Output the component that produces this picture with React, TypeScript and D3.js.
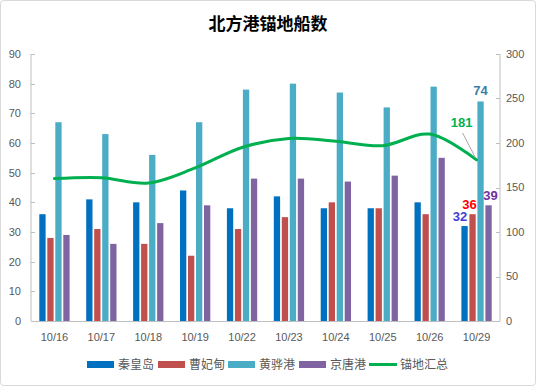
import React from 'react';
import * as d3 from 'd3';

// Data

const days = ['10/16', '10/17', '10/18', '10/19', '10/22', '10/23', '10/24', '10/25', '10/26', '10/29'];
const ports = ['秦皇岛', '曹妃甸', '黄骅港', '京唐港'];
const qhd = [36, 41, 40, 44, 38, 42, 38, 38, 40, 32];
const cfd = [28, 31, 26, 22, 31, 35, 40, 38, 36, 36];
const hhg = [67, 63, 56, 67, 78, 80, 77, 72, 79, 74];
const jtg = [29, 26, 33, 39, 48, 48, 47, 49, 55, 39];
const total = [160, 161, 155, 172, 195, 205, 202, 197, 210, 181];
const leftTicks = [0, 10, 20, 30, 40, 50, 60, 70, 80, 90];
const rightTicks = [0, 50, 100, 150, 200, 250, 300];

const seriesValues = [qhd, cfd, hhg, jtg];
const colors = ['#0070C0', '#C0504D', '#4BACC6', '#8064A2'];
const lineColor = '#00B050';
const labelColors = ['#3F3FD8', '#FF0000', '#3A7FA8', '#7030A0'];

const W = 536;
const H = 386;
const font = '"Liberation Sans", "Noto Sans CJK SC", sans-serif';

function App() {
    const ref = React.useRef<SVGSVGElement>(null);

    React.useEffect(() => {
        const svg = d3.select(ref.current);
        svg.selectAll('*').remove();

        const left = 31, right = 500, top = 54, bottom = 321;
        const x = d3.scaleBand<string>().domain(days).range([left, right]);
        const yL = d3.scaleLinear().domain([0, 90]).range([bottom, top]);
        const yR = d3.scaleLinear().domain([0, 300]).range([bottom, top]);

        const barW = 6.3, gap = 1.7;
        const groupW = ports.length * barW + (ports.length - 1) * gap;

        // frame
        svg.append('rect')
            .attr('x', 0.5).attr('y', 0.5).attr('width', W - 1).attr('height', H - 1)
            .attr('rx', 3).attr('fill', '#fff').attr('stroke', '#D9D9D9');

        // title
        svg.append('text')
            .attr('x', 268).attr('y', 30)
            .attr('text-anchor', 'middle')
            .attr('font-family', '"Noto Sans CJK SC", sans-serif')
            .attr('font-weight', 'bold').attr('font-size', 17)
            .attr('fill', '#000')
            .text('北方港锚地船数');

        // axes
        const axisG = svg.append('g').attr('stroke', '#BFBFBF').attr('stroke-width', 1);
        axisG.append('line').attr('x1', left).attr('x2', left).attr('y1', top).attr('y2', bottom);
        axisG.append('line').attr('x1', right).attr('x2', right).attr('y1', top).attr('y2', bottom);
        axisG.append('line').attr('x1', left).attr('x2', right).attr('y1', bottom + 0.5).attr('y2', bottom + 0.5);
        leftTicks.forEach((t) => {
            axisG.append('line').attr('x1', left).attr('x2', left + 4)
                .attr('y1', Math.round(yL(t)) + 0.5).attr('y2', Math.round(yL(t)) + 0.5);
        });
        rightTicks.forEach((t) => {
            axisG.append('line').attr('x1', right - 4).attr('x2', right)
                .attr('y1', Math.round(yR(t)) + 0.5).attr('y2', Math.round(yR(t)) + 0.5);
        });

        const tickText = svg.append('g')
            .attr('font-family', font).attr('font-size', 11).attr('fill', '#595959');
        leftTicks.forEach((t) => {
            tickText.append('text').attr('x', 21).attr('y', yL(t)).attr('dy', '0.35em')
                .attr('text-anchor', 'end').text(t);
        });
        rightTicks.forEach((t) => {
            tickText.append('text').attr('x', 506).attr('y', yR(t)).attr('dy', '0.35em')
                .attr('text-anchor', 'start').text(t);
        });
        days.forEach((d) => {
            tickText.append('text').attr('x', x(d)! + x.bandwidth() / 2).attr('y', 337).attr('dy', '0.35em')
                .attr('text-anchor', 'middle').text(d);
        });

        // bars
        seriesValues.forEach((vals, si) => {
            svg.append('g').attr('fill', colors[si])
                .selectAll('rect').data(vals).enter().append('rect')
                .attr('x', (_, i) => x(days[i])! + x.bandwidth() / 2 - groupW / 2 + si * (barW + gap))
                .attr('y', (v) => yL(v))
                .attr('width', barW)
                .attr('height', (v) => bottom - yL(v));
        });

        // total line
        const line = d3.line<number>()
            .x((_, i) => x(days[i])! + x.bandwidth() / 2)
            .y((v) => yR(v))
            .curve(d3.curveCatmullRom.alpha(0.5));
        svg.append('path').datum(total)
            .attr('d', line)
            .attr('fill', 'none').attr('stroke', lineColor).attr('stroke-width', 3)
            .attr('stroke-linecap', 'round');

        // last point labels
        const li = days.length - 1;
        const cx = x(days[li])! + x.bandwidth() / 2;
        const labels = svg.append('g').attr('font-family', font).attr('font-size', 12).attr('font-weight', 'bold')
            .attr('text-anchor', 'middle');
        const barCx = (si: number) => cx - groupW / 2 + si * (barW + gap) + barW / 2;
        const lblPos = [
            { dx: -4.5, dy: -5 },
            { dx: -3, dy: -5 },
            { dx: 0, dy: -6 },
            { dx: 2, dy: -5 },
        ];
        seriesValues.forEach((vals, si) => {
            labels.append('text')
                .attr('x', barCx(si) + lblPos[si].dx)
                .attr('y', yL(vals[li]) + lblPos[si].dy)
                .attr('fill', labelColors[si])
                .attr('font-size', 13)
                .text(vals[li]);
        });
        // total label with leader
        const px = cx, py = yR(total[li]);
        svg.append('line')
            .attr('x1', px - 14).attr('y1', py - 27).attr('x2', px - 1).attr('y2', py - 2)
            .attr('stroke', '#A6A6A6').attr('stroke-width', 1);
        labels.append('text')
            .attr('x', px - 15).attr('y', py - 33)
            .attr('fill', lineColor).attr('font-size', 13)
            .text(total[li]);

        // legend
        const legend = svg.append('g').attr('font-family', '"Noto Sans CJK SC", sans-serif')
            .attr('font-size', 12).attr('fill', '#595959');
        const legendX = [87, 158, 228, 299];
        ports.forEach((p, si) => {
            legend.append('rect').attr('x', legendX[si]).attr('y', 361).attr('width', 27).attr('height', 7)
                .attr('fill', colors[si]);
            legend.append('text').attr('x', legendX[si] + 31).attr('y', 364.5).attr('dy', '0.35em').text(p);
        });
        legend.append('line').attr('x1', 369).attr('x2', 397).attr('y1', 364.5).attr('y2', 364.5)
            .attr('stroke', lineColor).attr('stroke-width', 3);
        legend.append('text').attr('x', 400).attr('y', 364.5).attr('dy', '0.35em').text('锚地汇总');
    }, []);

    return (
        <div style={{ position: 'absolute', left: 0, top: 0 }}>
            <svg ref={ref} width={W} height={H} style={{ display: 'block' }}></svg>
        </div>
    );
}

export default App;
